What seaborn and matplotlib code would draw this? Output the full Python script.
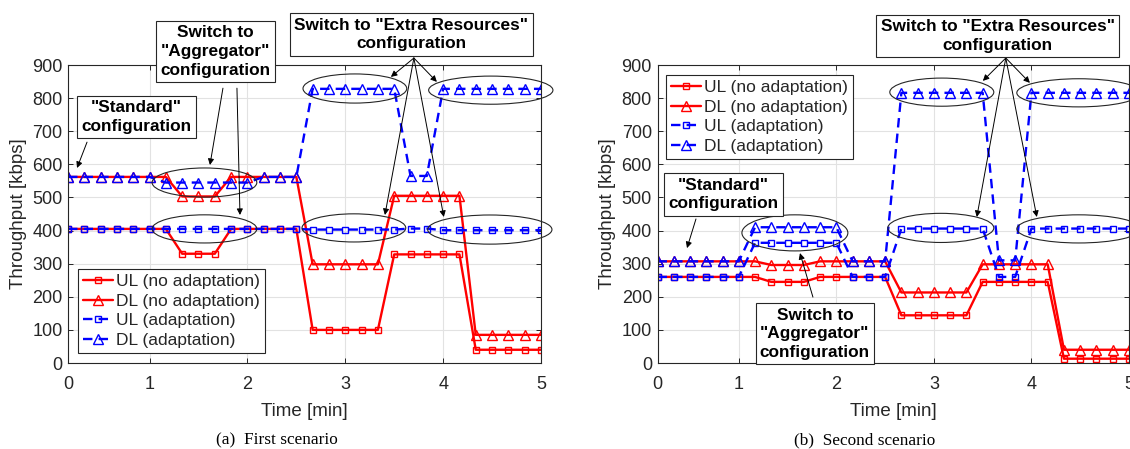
import numpy as np
import pandas as pd
import matplotlib
matplotlib.use("Agg")
import matplotlib.pyplot as plt
import seaborn as sns
from matplotlib.patches import Ellipse

# ---------------- data ----------------
time_s = [10, 20, 30, 40, 50, 60, 70, 80, 90, 100, 110, 120, 130, 140, 150,
          160, 170, 180, 190, 200, 210, 220, 230, 240, 250, 260, 270, 280, 290, 300]
tick_pos_s = [10, 60, 120, 180, 240, 300]
tick_labels = ["0", "1", "2", "3", "4", "5"]
yticks = [0, 100, 200, 300, 400, 500, 600, 700, 800, 900]

series_labels = ["UL (no adaptation)", "DL (no adaptation)", "UL (adaptation)", "DL (adaptation)"]

s1_ul_noad = [405, 405, 405, 405, 405, 405, 405, 330, 330, 330, 405, 405, 405, 405, 405,
              100, 100, 100, 100, 100, 328, 328, 328, 328, 328, 40, 40, 40, 40, 40]
s1_dl_noad = [562, 562, 562, 562, 562, 562, 562, 503, 503, 503, 562, 562, 562, 562, 562,
              298, 298, 298, 298, 298, 505, 505, 505, 505, 505, 85, 85, 85, 85, 85]
s1_ul_ad = [405, 405, 405, 405, 405, 405, 405, 405, 405, 405, 405, 405, 405, 405, 405,
            403, 403, 403, 403, 403, 403, 406, 406, 401, 401, 401, 401, 401, 401, 401]
s1_dl_ad = [562, 562, 562, 562, 562, 562, 545, 545, 545, 545, 545, 545, 562, 562, 562,
            828, 828, 828, 828, 828, 828, 565, 565, 828, 828, 828, 828, 828, 828, 828]

s2_ul_noad = [260, 260, 260, 260, 260, 260, 260, 245, 245, 245, 260, 260, 260, 260, 260,
              144, 144, 144, 144, 144, 245, 245, 245, 245, 245, 13, 13, 13, 13, 13]
s2_dl_noad = [307, 307, 307, 307, 307, 307, 307, 296, 296, 296, 307, 307, 307, 307, 307,
              213, 213, 213, 213, 213, 298, 298, 298, 298, 298, 40, 40, 40, 40, 40]
s2_ul_ad = [260, 260, 260, 260, 260, 260, 363, 363, 363, 363, 363, 363, 260, 260, 260,
            406, 406, 406, 406, 406, 406, 260, 260, 406, 406, 406, 406, 406, 406, 406]
s2_dl_ad = [307, 307, 307, 307, 307, 307, 410, 410, 410, 410, 410, 410, 307, 307, 307,
            816, 816, 816, 816, 816, 816, 310, 310, 816, 816, 816, 816, 816, 816, 816]

scenario_captions = ["(a)  First scenario", "(b)  Second scenario"]
txt_standard = '"Standard"\nconfiguration'
txt_aggregator = 'Switch to\n"Aggregator"\nconfiguration'
txt_extra = 'Switch to "Extra Resources"\nconfiguration'

# ---------------- style ----------------
sns.set_style("ticks")
plt.rcParams["font.family"] = ["Liberation Sans", "DejaVu Sans"]
plt.rcParams["axes.edgecolor"] = "#262626"
plt.rcParams["axes.linewidth"] = 0.8
plt.rcParams["xtick.color"] = "#262626"
plt.rcParams["ytick.color"] = "#262626"

RED = "#FF0000"
BLUE = "#0000FF"
DARK = "#262626"

fig = plt.figure(figsize=(11.3, 4.49), dpi=100)
W, H = 1130.0, 449.0
ax1 = fig.add_axes([68 / W, 86 / H, 473 / W, 298 / H])
ax2 = fig.add_axes([657.5 / W, 86 / H, 471.5 / W, 298 / H])

t_min = np.array(time_s) / 60.0


def draw_panel(ax, ul_no, dl_no, ul_ad, dl_ad):
    df = pd.DataFrame({"t": t_min, "ul_no": ul_no, "dl_no": dl_no,
                       "ul_ad": ul_ad, "dl_ad": dl_ad})
    specs = [("ul_no", RED, "s", 5.0, "-"),
             ("dl_no", RED, "^", 6.5, "-"),
             ("ul_ad", BLUE, "s", 5.0, (0, (4, 2.6))),
             ("dl_ad", BLUE, "^", 6.5, (0, (4, 2.6)))]
    handles = []
    for (col, colr, mk, ms, ls) in specs:
        sns.lineplot(data=df, x="t", y=col, ax=ax, color=colr, marker=mk,
                     markersize=ms, markerfacecolor="none", markeredgecolor=colr,
                     markeredgewidth=1.0, linewidth=1.7, linestyle=ls,
                     errorbar=None, sort=False, legend=False)
        handles.append(ax.lines[-1])
    ax.set_xlim(time_s[0] / 60, time_s[-1] / 60)
    ax.set_ylim(yticks[0], yticks[-1])
    ax.set_xticks(np.array(tick_pos_s) / 60)
    ax.set_xticklabels(tick_labels)
    ax.set_yticks(yticks)
    ax.grid(True, color="#e2e2e2", linewidth=0.8)
    ax.set_axisbelow(True)
    ax.tick_params(direction="in", length=3.5, width=0.7, top=True, right=True,
                   labelsize=13)
    ax.tick_params(axis="x", pad=9.5)
    ax.tick_params(axis="y", pad=4)
    for s in ax.spines.values():
        s.set_visible(True)
        s.set_color(DARK)
    ax.set_xlabel("Time [min]", fontsize=13.5, color=DARK, labelpad=7)
    ax.set_ylabel("Throughput [kbps]", fontsize=13.5, color=DARK, labelpad=4)
    return handles


def ellipse(ax, cx, cy, w, h):
    e = Ellipse((cx, cy), w, h, fill=False, edgecolor=DARK, linewidth=0.8,
                clip_on=False, zorder=6)
    ax.add_patch(e)


def box(ax, x, y, text):
    ax.text(x, y, text, ha="center", va="center", fontsize=12.4, fontweight="bold",
            color="black", linespacing=1.3, clip_on=False, zorder=10,
            bbox=dict(boxstyle="square,pad=0.25", facecolor="white",
                      edgecolor=DARK, linewidth=0.8))


def arrow(ax, start, tip):
    ax.annotate("", xy=tip, xytext=start, annotation_clip=False, zorder=9,
                arrowprops=dict(arrowstyle="-|>", color="black", lw=0.7,
                                shrinkA=0, shrinkB=0, mutation_scale=9))


# ---------------- panel 1 ----------------
h1 = draw_panel(ax1, s1_ul_noad, s1_dl_noad, s1_ul_ad, s1_dl_ad)
leg1 = ax1.legend(h1, series_labels, loc="lower left", bbox_to_anchor=(0.021, 0.034),
                  borderaxespad=0, fontsize=12.5, frameon=True, fancybox=False,
                  edgecolor=DARK, framealpha=1, handlelength=1.7, handletextpad=0.2,
                  borderpad=0.3, labelspacing=0.25)
leg1.get_frame().set_linewidth(0.8)

ellipse(ax1, 1.561, 545, 1.07, 88)
ellipse(ax1, 1.561, 405, 1.07, 85)
ellipse(ax1, 3.098, 829, 1.06, 88)
ellipse(ax1, 4.487, 824, 1.27, 85)
ellipse(ax1, 3.088, 408, 1.06, 85)
ellipse(ax1, 4.477, 403, 1.27, 88)

arrow(ax1, (0.361, 667), (0.259, 589))
arrow(ax1, (1.750, 830), (1.617, 598))
arrow(ax1, (1.893, 830), (1.924, 447))
for tip in [(3.466, 864), (3.936, 849), (3.405, 447), (4.007, 441)]:
    arrow(ax1, (3.701, 921), tip)

box(ax1, 0.866, 743, txt_standard)
box(ax1, 1.673, 941, txt_aggregator)
box(ax1, 3.675, 992, txt_extra)

# ---------------- panel 2 ----------------
h2 = draw_panel(ax2, s2_ul_noad, s2_dl_noad, s2_ul_ad, s2_dl_ad)
leg2 = ax2.legend(h2, series_labels, loc="upper left", bbox_to_anchor=(0.018, 0.966),
                  borderaxespad=0, fontsize=12.5, frameon=True, fancybox=False,
                  edgecolor=DARK, framealpha=1, handlelength=1.7, handletextpad=0.2,
                  borderpad=0.3, labelspacing=0.25)
leg2.get_frame().set_linewidth(0.8)

ellipse(ax2, 1.575, 393, 1.086, 109)
ellipse(ax2, 3.081, 818, 1.066, 85)
ellipse(ax2, 4.485, 816, 1.27, 85)
ellipse(ax2, 3.071, 408, 1.086, 88)
ellipse(ax2, 4.485, 405, 1.27, 85)

arrow(ax2, (0.561, 435), (0.469, 347))
arrow(ax2, (1.760, 199), (1.627, 332))
for tip in [(3.502, 852), (3.984, 846), (3.440, 441), (4.055, 441)]:
    arrow(ax2, (3.737, 921), tip)

box(ax2, 0.843, 509, txt_standard)
box(ax2, 1.780, 88, txt_aggregator)
box(ax2, 3.655, 988, txt_extra)

# ---------------- captions ----------------
fig.text(276.5 / W, 1 - 440 / H, scenario_captions[0], ha="center", va="center",
         fontsize=12.4, family=["Liberation Serif", "DejaVu Serif"], color="black")
fig.text(864.5 / W, 1 - 440 / H, scenario_captions[1], ha="center", va="center",
         fontsize=12.4, family=["Liberation Serif", "DejaVu Serif"], color="black")

fig.savefig("out.png", dpi=100, facecolor="white")
